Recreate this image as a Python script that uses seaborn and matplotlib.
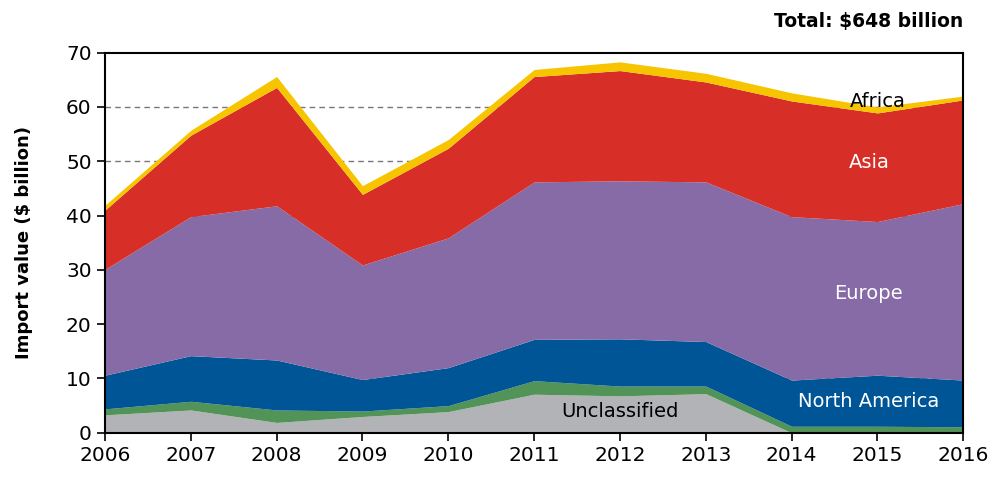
import matplotlib
matplotlib.use("Agg")
import matplotlib.pyplot as plt
import seaborn as sns
import numpy as np

years = [2006, 2007, 2008, 2009, 2010, 2011, 2012, 2013, 2014, 2015, 2016]
unclassified = [3.3, 4.2, 1.9, 3.0, 3.9, 7.1, 6.8, 7.2, 0.0, 0.0, 0.0]
other = [1.1, 1.6, 2.3, 1.0, 1.1, 2.5, 1.8, 1.4, 1.2, 1.2, 1.1]
north_america = [6.2, 8.4, 9.2, 5.8, 7.0, 7.6, 8.7, 8.2, 8.5, 9.4, 8.6]
europe = [19.5, 25.6, 28.4, 21.1, 23.9, 29.0, 29.1, 29.4, 30.1, 28.3, 32.5]
asia = [10.9, 15.0, 21.8, 13.0, 16.5, 19.4, 20.3, 18.4, 21.3, 20.0, 19.1]
africa = [0.9, 0.9, 2.0, 1.6, 1.6, 1.3, 1.6, 1.6, 1.5, 1.1, 0.7]

series_names = ["Unclassified", "Other", "North America", "Europe", "Asia", "Africa"]
colors = ["#b1b3b6", "#529357", "#005596", "#876ba6", "#d72e27", "#f6c500"]

sns.set_style("white")
plt.rcParams['font.family'] = ['DejaVu Sans']
plt.rcParams['text.color'] = 'black'
plt.rcParams['axes.labelcolor'] = 'black'

fig = plt.figure(figsize=(9.9, 4.83), dpi=100)
ax = fig.add_axes([0.106, 0.104, 0.867, 0.787])

for yv in range(10, 70, 10):
    ax.axhline(yv, color="#777777", linestyle=(0, (4, 3)), linewidth=1.0, zorder=0)

ax.stackplot(years, unclassified, other, north_america, europe, asia, africa,
             colors=colors, labels=series_names, linewidth=0, zorder=2)

ax.set_xlim(2006, 2016)
ax.set_ylim(0, 70)
ax.set_xticks(years)
ax.set_yticks(range(0, 71, 10))
ax.tick_params(axis="both", direction="out", length=6, width=1.2, labelsize=14.5,
               bottom=True, left=True, colors="black", labelcolor="black")
for s in ax.spines.values():
    s.set_visible(True)
    s.set_color("black")
    s.set_linewidth(1.5)
    s.set_zorder(5)

ax.set_ylabel("Import value ($ billion)", fontsize=13, fontweight="bold",
              labelpad=24, color="black")

fig.text(0.973, 0.955, "Total: $648 billion", ha="right", va="center",
         fontsize=13.5, fontweight="bold", color="black")

lab_kw = dict(fontsize=14, ha="center", va="center", zorder=6)
ax.text(2015.0, 61.0, "Africa", color="black", **lab_kw)
ax.text(2014.9, 49.8, "Asia", color="white", **lab_kw)
ax.text(2014.9, 25.7, "Europe", color="white", **lab_kw)
ax.text(2014.9, 5.7, "North America", color="white", **lab_kw)
ax.text(2012.0, 3.9, "Unclassified", color="black", **lab_kw)

fig.savefig("out.png", dpi=100)
